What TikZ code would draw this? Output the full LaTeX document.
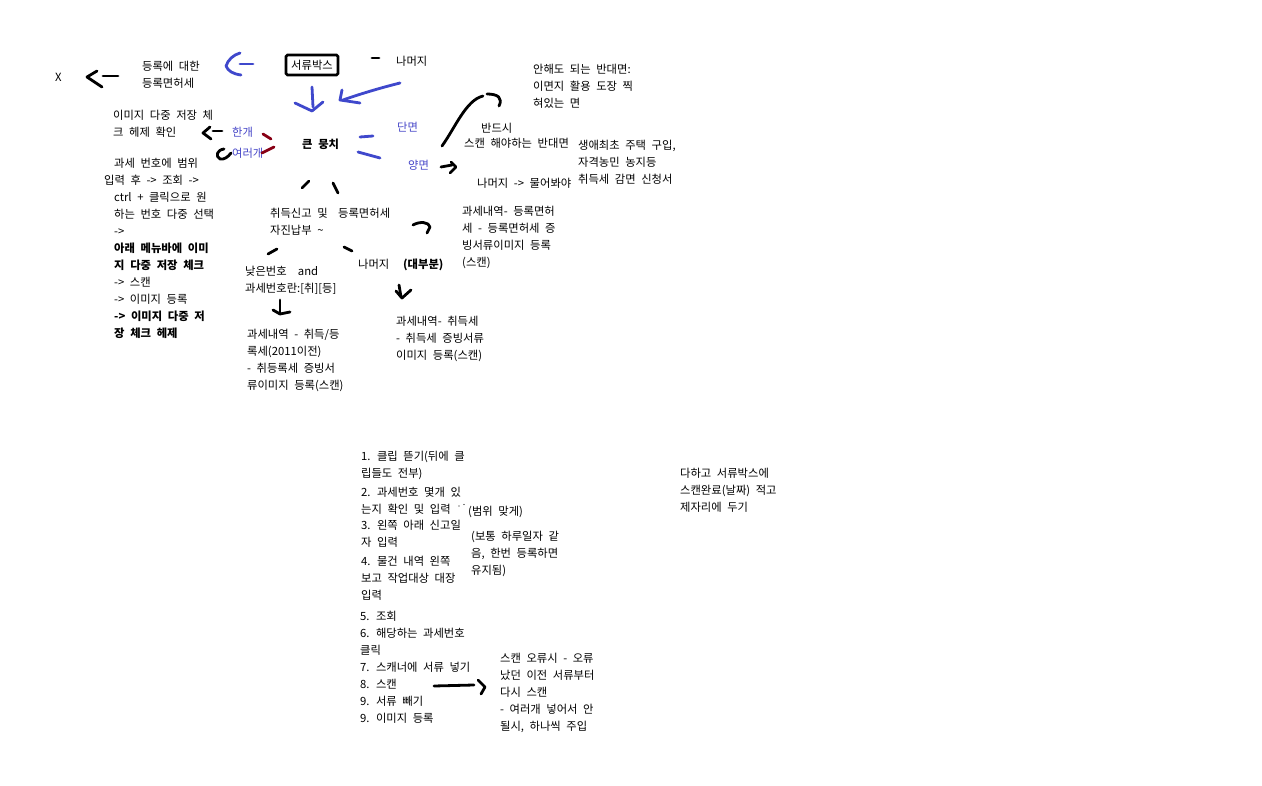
\documentclass[tikz,border=0pt]{standalone}
\usepackage{fontspec}
\newfontfamily\kr[WordSpace=2.2]{Noto Sans CJK KR}
\definecolor{pblue}{HTML}{3F48CC}
\definecolor{lblue}{HTML}{4646C8}
\definecolor{pred}{HTML}{880015}
\tikzset{
  txt/.style={anchor=north west, inner sep=0pt, align=left, font=\kr\fontsize{11.3}{17}\selectfont},
  btxt/.style={txt, text=lblue},
  bk/.style={line width=2.8pt, line cap=round, line join=round},
  bl/.style={bk, draw=pblue},
  dr/.style={bk, draw=pred},
  boxed/.style={draw, line width=2.6pt, rounded corners=1.5pt, inner sep=0pt, minimum width=52pt, minimum height=20pt, font=\kr\fontsize{11.3}{17}\selectfont}
}
\begin{document}
\begin{tikzpicture}[x=1pt,y=-1pt]
\useasboundingbox[fill=white] (0,0) rectangle (1262,786);

% texts
\node[txt] (x) at (55,73.5) {X};
\node[txt] (reg) at (142,60.5) {등록에 대한\\등록면허세};
\node[boxed] (box) at (312,65) {서류박스};
\node[txt] (rest1) at (396,55.5) {나머지};
\node[txt] (noneed) at (533,63.5) {안해도 되는 반대면:\\이면지 활용 도장 찍\\혀있는 면};
\node[txt] (check) at (113,109.5) {이미지 다중 저장 체\\크 헤제 확인};
\node[btxt] (one) at (232,126.5) {한개};
\node[btxt] (many) at (232,147.5) {여러개};
\node[txt,font=\kr\bfseries\fontsize{11.3}{17}\selectfont] (big) at (302,138.5) {큰 뭉치};
\node[btxt] (single) at (397,121.5) {단면};
\node[btxt] (double) at (408,159.5) {양면};
\node[txt] (must1) at (481,122.5) {반드시};
\node[txt] (must2) at (464,137.5) {스캔 해야하는 반대면};
\node[txt] (first) at (578,139.5) {생애최초 주택 구입,\\자격농민 농지등\\취득세 감면 신청서};
\node[txt] (ask) at (477,177.5) {나머지 -> 물어봐야};
\node[txt] (steps) at (114,157.5) {과세 번호에 범위\\\hspace*{-10pt}입력 후 -> 조회 ->\\ctrl + 클릭으로 원\\하는 번호 다중 선택\\->\\\textbf{아래 메뉴바에 이미}\\\textbf{지 다중 저장 체크}\\-> 스캔\\-> 이미지 등록\\\textbf{-> 이미지 다중 저}\\\textbf{장 체크 헤제}};
\node[txt] (acq) at (270,207.5) {취득신고 및\\자진납부 \textasciitilde};
\node[txt] (regtax) at (338,207.5) {등록면허세};
\node[txt] (rest2) at (358,258.5) {나머지};
\node[txt,font=\kr\bfseries\fontsize{11.3}{17}\selectfont] (most) at (403,258.5) {(대부분)};
\node[txt] (low) at (245,265.5) {낮은번호\ \ and\\과세번호란:[취][등]};
\node[txt] (hist1) at (247,328.5) {과세내역 - 취득/등\\록세(2011이전)\\- 취등록세 증빙서\\류이미지 등록(스캔)};
\node[txt] (hist2) at (396,315.5) {과세내역- 취득세\\- 취득세 증빙서류\\이미지 등록(스캔)};
\node[txt] (hist3) at (462,205.5) {과세내역- 등록면허\\세 - 등록면허세 증\\빙서류이미지 등록\\(스캔)};
\node[txt] (s1) at (361,450.5) {1. 클립 뜯기(뒤에 클\\립들도 전부)};
\node[txt] (s2) at (361,486.5) {2. 과세번호 몇개 있\\는지 확인 및 입력};
\node[txt] (range) at (468,505.5) {(범위 맞게)};
\node[txt] (s3) at (361,519.5) {3. 왼쪽 아래 신고일\\자 입력};
\node[txt] (s4) at (361,555.5) {4. 물건 내역 왼쪽\\보고 작업대상 대장\\입력};
\node[txt] (usual) at (471,530.5) {(보통 하루일자 같\\음, 한번 등록하면\\유지됨)};
\node[txt] (s5) at (360,610.5) {5. 조회\\6. 해당하는 과세번호\\클릭\\7. 스캐너에 서류 넣기\\8. 스캔\\9. 서류 빼기\\9. 이미지 등록};
\node[txt] (err) at (500,652.5) {스캔 오류시 - 오류\\났던 이전 서류부터\\다시 스캔\\- 여러개 넣어서 안\\될시, 하나씩 주입};
\node[txt] (done) at (680,467.5) {다하고 서류박스에\\스캔완료(날짜) 적고\\제자리에 두기};

% small dots after 입력
\fill (459,506) circle (0.7pt);
\fill (464,504.5) circle (0.7pt);

% black strokes
\draw[bk] (103,76) -- (118,76);
\draw[bk] (97,71) -- (87,77) -- (102,87);
\draw[bk] (372,58) -- (379,58);
\draw[bk] (213,131) -- (222,131);
\draw[bk] (210,127) -- (203,133) -- (211,139);
\draw[bk] (224,149) .. controls (217,150) and (215,156) .. (220,159) .. controls (224,160) and (228,157) .. (231,153);
\draw[bk] (302,188) -- (309,181);
\draw[bk] (333,183) -- (338,193);
\draw[bk] (442,146) .. controls (455,128) and (466,100) .. (483,96);
\draw[bk] (487,94) .. controls (498,94) and (503,98) .. (499,106);
\draw[bk] (441,167) -- (452,165);
\draw[bk] (451,162) -- (456,167) -- (450,173);
\draw[bk] (413,225) .. controls (420,221) and (429,222) .. (430,227) -- (427,233);
\draw[bk] (268,254) -- (277,249);
\draw[bk] (344,247) -- (352,251);
\draw[bk] (280,300) -- (280,313);
\draw[bk] (273,310) -- (280,314) -- (290,312);
\draw[bk] (399,285) -- (401,297);
\draw[bk] (396,291) -- (402,298) -- (411,290);
\draw[bk] (434,686) -- (474,685);
\draw[bk] (478,680) -- (485,687) -- (481,694);

% blue strokes
\draw[bl] (240,64) -- (253,64);
\draw[bl] (240,53) .. controls (233,55) and (228,60) .. (226,66) .. controls (228,71) and (233,74) .. (241,75);
\draw[bl] (312,87) -- (313,107);
\draw[bl] (295,103) -- (312,111) -- (323,102);
\draw[bl] (400,83) .. controls (380,88) and (360,94) .. (343,100);
\draw[bl] (342,90) -- (340,100) -- (360,103);
\draw[bl] (360,137) -- (373,136);
\draw[bl] (358,152) -- (380,158);

% dark red strokes
\draw[dr] (263,134) -- (271,139);
\draw[dr] (262,153) -- (274,147);
\end{tikzpicture}
\end{document}
